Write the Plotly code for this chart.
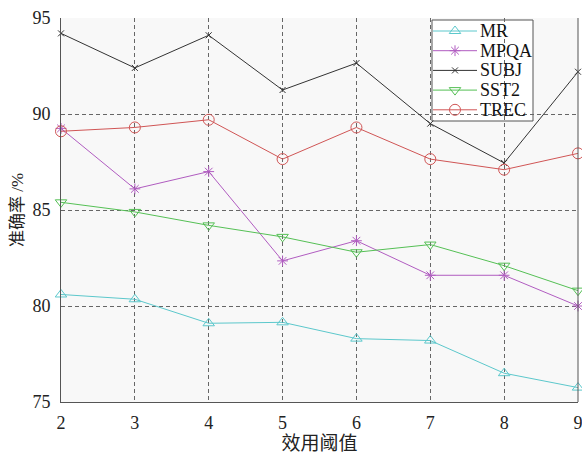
import plotly.graph_objects as go

x_vals = [2, 3, 4, 5, 6, 7, 8, 9]
mr = [80.6, 80.35, 79.1, 79.15, 78.3, 78.2, 76.5, 75.75]
mpqa = [89.25, 86.1, 87.0, 82.35, 83.4, 81.6, 81.6, 80.0]
subj = [94.2, 92.4, 94.1, 91.25, 92.65, 89.5, 87.45, 92.2]
sst2 = [85.4, 84.9, 84.2, 83.6, 82.8, 83.2, 82.1, 80.8]
trec = [89.1, 89.3, 89.7, 87.65, 89.3, 87.65, 87.1, 87.95]
y_ticks = [75, 80, 85, 90, 95]

series = [
    ("MR", mr, "#5cc8cc", "triangle-up-open", 10),
    ("MPQA", mpqa, "#b05cc0", "asterisk-open", 9),
    ("SUBJ", subj, "#333333", "x-thin-open", 6),
    ("SST2", sst2, "#55c055", "triangle-down-open", 10),
    ("TREC", trec, "#d05555", "circle-open", 11),
]

W, H = 582, 454
ML, MR_, MT, MB = 61, 4, 18, 52
PW, PH = W - ML - MR_, H - MT - MB


def px_x(px):
    return (px - ML) / PW


def px_y(py):
    return (H - MB - py) / PH


fig = go.Figure()
for name, ys, color, sym, sz in series:
    fig.add_trace(go.Scatter(
        x=x_vals, y=ys, name=name, mode="lines+markers",
        line=dict(color=color, width=1),
        marker=dict(symbol=sym, size=sz, color=color, line=dict(color=color, width=1)),
        cliponaxis=False, showlegend=False,
    ))

font = "Liberation Serif, Times New Roman, Noto Sans CJK SC"

# manual legend (compact, like the reference)
box_l, box_r, box_t, box_b = 432, 533, 20, 121
fig.add_shape(type="rect", xref="paper", yref="paper",
              x0=px_x(box_l), x1=px_x(box_r), y0=px_y(box_b), y1=px_y(box_t),
              fillcolor="white", line=dict(color="#555", width=1), layer="between")
row_y0, row_step = 31, 19.7
ln_x0, ln_x1, txt_x = 433, 477, 478
for i, (name, ys, color, sym, sz) in enumerate(series):
    yy = px_y(row_y0 + i * row_step)
    fig.add_trace(go.Scatter(
        x=[px_x(ln_x0), px_x((ln_x0 + ln_x1) / 2), px_x(ln_x1)], y=[yy, yy, yy],
        xaxis="x2", yaxis="y2", mode="lines", line=dict(color=color, width=1),
        showlegend=False, hoverinfo="skip"))
    fig.add_trace(go.Scatter(
        x=[px_x((ln_x0 + ln_x1) / 2)], y=[yy],
        xaxis="x2", yaxis="y2", mode="markers",
        marker=dict(symbol=sym, size=sz, color=color, line=dict(color=color, width=1)),
        showlegend=False, hoverinfo="skip"))
    fig.add_annotation(text=name, xref="paper", yref="paper", x=px_x(txt_x), y=yy,
                       xanchor="left", yanchor="middle", showarrow=False,
                       font=dict(size=18, family=font, color="#111"))

fig.update_layout(
    width=W, height=H,
    margin=dict(l=ML, r=MR_, t=MT, b=MB),
    paper_bgcolor="white", plot_bgcolor="#f8f8f8",
    font=dict(family=font, size=18, color="#222"),
    showlegend=False,
    xaxis=dict(range=[2, 9], tickvals=x_vals, showgrid=True,
               gridcolor="#666", griddash="4px,3px", gridwidth=1,
               showline=True, linecolor="#555", linewidth=1, mirror=False,
               ticks="", zeroline=False, automargin=False, ticklabelstandoff=4,
               ticklabeloverflow="allow",
               tickfont=dict(size=18),
               title=dict(text="效用阈值", font=dict(size=19), standoff=19)),
    yaxis=dict(range=[75, 95], tickvals=y_ticks, showgrid=True,
               gridcolor="#666", griddash="4px,3px", gridwidth=1,
               showline=True, linecolor="#555", linewidth=1, mirror=False,
               ticks="", zeroline=False, automargin=False, ticklabelstandoff=6,
               ticklabeloverflow="allow",
               tickfont=dict(size=18),
               title=dict(text="准确率 /%", font=dict(size=17), standoff=4)),
    xaxis2=dict(overlaying="x", range=[0, 1], visible=False, domain=[0, 1]),
    yaxis2=dict(overlaying="y", range=[0, 1], visible=False, domain=[0, 1]),
)
fig.add_shape(type="line", xref="paper", yref="paper", x0=1, x1=1, y0=0, y1=1,
              line=dict(color="#555", width=1))
fig.write_html("out.html", config={"displayModeBar": False},
               post_script="document.body.style.margin='0';")
